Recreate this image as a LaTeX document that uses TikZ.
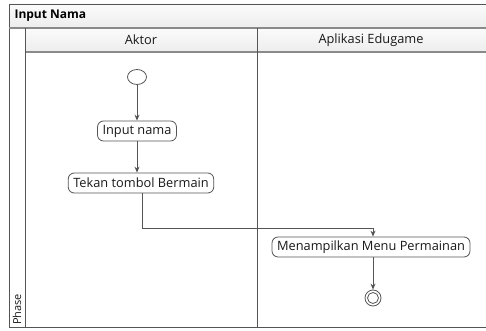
\documentclass[tikz,border=0pt]{standalone}
\usepackage{fontspec}
\setmainfont{Open Sans}
\usetikzlibrary{arrows.meta,shapes.geometric}
\definecolor{linegray}{HTML}{555555}
\definecolor{barline}{HTML}{8A8A8A}
\definecolor{bartop}{HTML}{FBFBFB}
\definecolor{barbot}{HTML}{EDEDED}
\begin{document}
\begin{tikzpicture}[x=1pt,y=-1pt,
  every node/.style={font=\fontsize{12.8}{14}\selectfont, text=black!90},
  action/.style={draw=linegray, rounded corners=6pt, fill=white, inner xsep=5pt,
    minimum height=20pt, line width=0.8pt},
  flow/.style={draw=linegray, line width=0.8pt, -{Stealth[length=6pt,width=5pt]}},
  frame/.style={draw=linegray, line width=0.8pt},
  bar/.style={top color=bartop, bottom color=barbot, draw=none}]
\useasboundingbox (0,0) rectangle (486,331);
% title bar and lane headers
\fill[bar] (9,4) rectangle (486,28);
\fill[bar] (25,28) rectangle (486,52);
\fill[white] (9,28) rectangle (25,327);
\draw[frame] (486,4) -- (9,4) -- (9,327) -- (486,327);
\draw[barline, line width=1.6pt] (9,28) -- (486,28);
\draw[barline, line width=1.6pt] (25,52) -- (486,52);
\draw[frame] (25,28) -- (25,327);
\draw[frame] (257,28) -- (257,327);
\node[anchor=west, text=black, font=\fontsize{12}{14}\selectfont\bfseries] (title) at (11,16) {Input Nama};
\node (laneA) at (141,40) {Aktor};
\node (laneB) at (371,40) {Aplikasi Edugame};
\node[rotate=90, anchor=west, inner sep=0pt, font=\fontsize{11}{13}\selectfont] (phase) at (17,325) {Phase};
% activity flow
\node[draw=linegray, ellipse, minimum width=19pt, minimum height=15pt, inner sep=0pt, line width=0.8pt] (start) at (137,77) {};
\node[action] (input) at (137,131) {Input nama};
\node[action] (tekan) at (141,183) {Tekan tombol Bermain};
\node[action] (menu) at (371,247) {Menampilkan Menu Permainan};
\node[draw=linegray, circle, minimum size=16pt, inner sep=0pt, line width=0.8pt] (end) at (373,298) {};
\node[draw=linegray, circle, minimum size=11pt, inner sep=0pt, line width=0.8pt] (endin) at (373,298) {};
\coordinate (bend1) at (142,228);
\coordinate (bend2) at (373,228);
\draw[flow] (start) -- (input);
\draw[flow] (input) -- (input |- tekan.north);
\draw[flow] (tekan.south -| bend1) -- (bend1) -- (bend2) -- (bend2 |- menu.north);
\draw[flow] (menu.south -| end) -- (end);
\end{tikzpicture}
\end{document}
